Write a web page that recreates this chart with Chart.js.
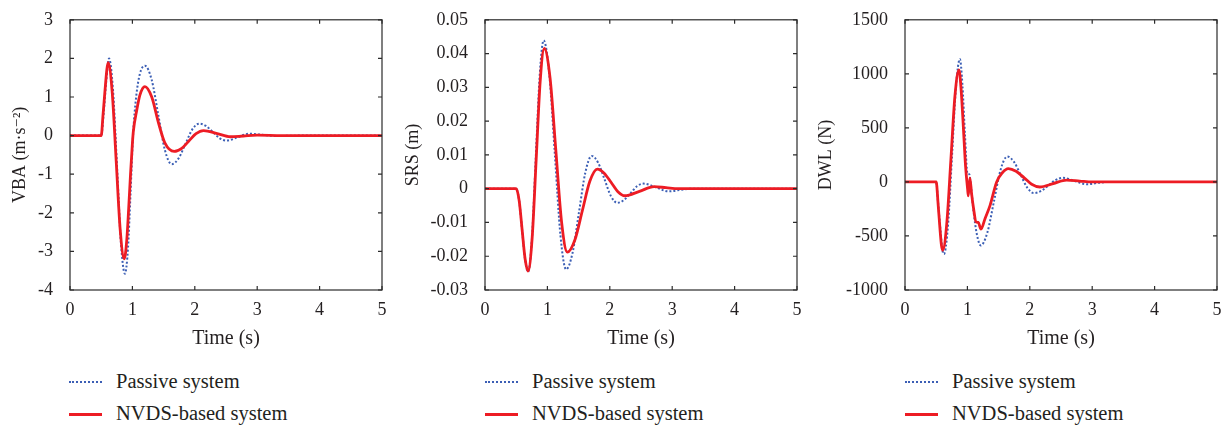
<!DOCTYPE html>
<html>
<head>
<meta charset="utf-8">
<script src="https://cdn.jsdelivr.net/npm/chart.js@4.4.1/dist/chart.umd.min.js"></script>
<style>
  body { margin: 0; background: #fff; width: 1231px; height: 430px; position: relative; overflow: hidden;
         font-family: "Liberation Serif", "DejaVu Serif", serif; color: #231f20; }
  canvas.panel { position: absolute; top: 0; }
  .legText { position: absolute; font-size: 20.5px; line-height: 22px; white-space: nowrap; }
  .legLine { position: absolute; width: 33px; height: 0; }
</style>
</head>
<body>
<canvas id="vbaChart" class="panel" width="400" height="360" style="left:0px"></canvas>
<canvas id="srsChart" class="panel" width="410" height="360" style="left:400px"></canvas>
<canvas id="dwlChart" class="panel" width="421" height="360" style="left:810px"></canvas>
<script>
"use strict";

/* ── Datos ── */
const timeTicks = [0, 1, 2, 3, 4, 5];
const seriesNames = ["Passive system", "NVDS-based system"];

// VBA (m·s⁻²)
const vbaPassiveT = [0, 0.5, 0.54, 0.58, 0.625, 0.689, 0.753, 0.816, 0.88, 0.93, 0.97, 1.01, 1.06, 1.12, 1.2, 1.31, 1.415, 1.52, 1.63, 1.74, 1.85, 1.96, 2.07, 2.18, 2.29, 2.4, 2.51, 2.69, 2.87, 3.08, 3.3, 3.7, 5];
const vbaPassiveY = [0, 0, 0.6, 1.4, 2.0, 1.19, -0.79, -2.77, -3.58, -2.9, -1.5, 0.0, 1.0, 1.6, 1.81, 1.44, 0.535, -0.37, -0.74, -0.59, -0.215, 0.16, 0.31, 0.25, 0.09, -0.07, -0.13, -0.04, 0.05, 0.02, -0.01, 0, 0];
const vbaNvdsT = [0, 0.5, 0.53, 0.56, 0.59, 0.61, 0.675, 0.74, 0.805, 0.87, 0.91, 0.94, 0.97, 1.0, 1.015, 1.07, 1.12, 1.2, 1.31, 1.42, 1.52, 1.67, 1.79, 1.905, 2.02, 2.14, 2.36, 2.57, 2.78, 3.0, 3.4, 5];
const vbaNvdsY = [0, 0, 0.55, 1.15, 1.7, 1.89, 1.15, -0.65, -2.45, -3.19, -2.7, -1.9, -1.0, -0.2, 0.11, 0.66, 1.05, 1.27, 1.0, 0.32, -0.19, -0.41, -0.33, -0.14, 0.05, 0.13, 0.05, -0.03, -0.01, 0.01, 0, 0];

// SRS (m)
const srsPassiveT = [0, 0.5, 0.548, 0.595, 0.643, 0.69, 0.753, 0.815, 0.878, 0.94, 1.03, 1.12, 1.21, 1.3, 1.403, 1.505, 1.608, 1.71, 1.813, 1.915, 2.018, 2.12, 2.225, 2.33, 2.435, 2.54, 2.74, 2.94, 3.12, 3.3, 5];
const srsPassiveY = [0, 0, -0.0036, -0.0123, -0.021, -0.0246, -0.0146, 0.0097, 0.0339, 0.0439, 0.034, 0.01, -0.014, -0.0239, -0.019, -0.0071, 0.0048, 0.0097, 0.0077, 0.0028, -0.0022, -0.0042, -0.0034, -0.0014, 0.0007, 0.0015, 0.0004, -0.0008, -0.0004, 0, 0];
const srsNvdsT = [0, 0.5, 0.548, 0.595, 0.643, 0.69, 0.755, 0.82, 0.885, 0.95, 1.043, 1.135, 1.228, 1.32, 1.44, 1.56, 1.68, 1.8, 1.91, 2.02, 2.13, 2.24, 2.475, 2.71, 2.9, 3.1, 5];
const srsNvdsY = [0, 0, -0.0036, -0.0122, -0.0208, -0.0244, -0.0148, 0.0086, 0.0319, 0.0415, 0.0327, 0.0114, -0.01, -0.0188, -0.0152, -0.0065, 0.0022, 0.0058, 0.0046, 0.0019, -0.0009, -0.0021, -0.0008, 0.0006, 0.0003, 0, 0];

// DWL (N)
const dwlPassiveT = [0, 0.5, 0.53, 0.57, 0.6, 0.625, 0.689, 0.753, 0.816, 0.88, 0.92, 0.96, 1.0, 1.03, 1.06, 1.1, 1.15, 1.213, 1.32, 1.427, 1.533, 1.64, 1.747, 1.854, 1.96, 2.067, 2.182, 2.297, 2.412, 2.527, 2.72, 2.91, 3.1, 3.3, 5];
const dwlPassiveY = [0, 0, -190, -460, -630, -667, -404, 235, 873, 1137, 900, 450, 80, 70, -60, -280, -480, -588, -468, -176, 115, 235, 185, 65, -54, -104, -83, -33, 17, 38, 8, -22, -8, 0, 0];
const dwlNvdsT = [0, 0.5, 0.53, 0.56, 0.585, 0.604, 0.669, 0.735, 0.8, 0.865, 0.9, 0.935, 0.97, 1.004, 1.015, 1.04, 1.068, 1.1, 1.138, 1.175, 1.218, 1.282, 1.362, 1.469, 1.56, 1.656, 1.78, 1.91, 2.03, 2.16, 2.375, 2.59, 2.8, 3.0, 5];
const dwlNvdsY = [0, 0, -200, -430, -590, -632, -388, 202, 793, 1037, 850, 510, 150, -70, -128, 38, -113, -250, -370, -375, -437, -340, -219, 0, 85, 123, 98, 38, -22, -47, -15, 17, 8, 0, 0];

/* ── Estilo ── */
const FONT = '"Liberation Serif", "DejaVu Serif", serif';
const TEXT = "#231f20";
const BLUE = "#3c5fb5";
const RED = "#ed1c24";

const pts = (ts, ys) => ts.map((t, i) => ({ x: t, y: ys[i] }));

// marco completo + marcas hacia adentro en los 4 lados
const framePlugin = {
  id: "frame",
  afterDraw(chart) {
    const { ctx, chartArea: a, scales } = chart;
    ctx.save();
    ctx.strokeStyle = "#2b2b2b";
    ctx.lineWidth = 1.2;
    ctx.strokeRect(a.left, a.top, a.right - a.left, a.bottom - a.top);
    ctx.beginPath();
    scales.x.ticks.forEach((t) => {
      const px = scales.x.getPixelForValue(t.value);
      ctx.moveTo(px, a.bottom); ctx.lineTo(px, a.bottom - 4);
      ctx.moveTo(px, a.top); ctx.lineTo(px, a.top + 4);
    });
    scales.y.ticks.forEach((t) => {
      const py = scales.y.getPixelForValue(t.value);
      ctx.moveTo(a.left, py); ctx.lineTo(a.left + 4, py);
      ctx.moveTo(a.right, py); ctx.lineTo(a.right - 4, py);
    });
    ctx.stroke();
    ctx.restore();
  },
};

function makePanel(id, cfg) {
  const ctx = document.getElementById(id).getContext("2d");
  return new Chart(ctx, {
    type: "line",
    data: {
      datasets: [
        {
          label: seriesNames[0],
          data: pts(cfg.passiveT, cfg.passiveY),
          borderColor: BLUE,
          borderWidth: 2,
          borderDash: [2, 2],
          order: 1,
        },
        {
          label: seriesNames[1],
          data: pts(cfg.nvdsT, cfg.nvdsY),
          borderColor: RED,
          borderWidth: 2.8,
          order: 0,
        },
      ],
    },
    options: {
      responsive: false,
      animation: false,
      devicePixelRatio: 1,
      parsing: false,
      elements: {
        point: { radius: 0 },
        line: { cubicInterpolationMode: "monotone", fill: false },
      },
      layout: { padding: { left: cfg.padLeft, right: cfg.padRight, top: 14, bottom: 9 } },
      plugins: { legend: { display: false }, tooltip: { enabled: false } },
      scales: {
        x: {
          type: "linear",
          min: timeTicks[0],
          max: timeTicks[timeTicks.length - 1],
          grid: { display: false },
          border: { display: false },
          afterBuildTicks: (s) => { s.ticks = timeTicks.map((v) => ({ value: v })); },
          ticks: { color: TEXT, padding: 1, maxRotation: 0, font: { family: FONT, size: 18 }, callback: (v) => String(v) },
          title: { display: true, text: "Time (s)", color: TEXT, padding: 0, font: { family: FONT, size: 20 } },
          afterFit: (s) => { s.height = 61; },
        },
        y: {
          type: "linear",
          min: cfg.yMin,
          max: cfg.yMax,
          grid: { display: false },
          border: { display: false },
          ticks: { stepSize: cfg.yStep, color: TEXT, padding: 9, font: { family: FONT, size: 18 }, callback: cfg.fmt },
          title: { display: true, text: cfg.yTitle, color: TEXT, padding: 0, font: { family: FONT, size: 18 } },
          afterFit: (s) => { s.width = cfg.yWidth; },
        },
      },
    },
    plugins: [framePlugin],
  });
}

const intFmt = (v) => String(Math.round(v));

makePanel("vbaChart", {
  passiveT: vbaPassiveT, passiveY: vbaPassiveY, nvdsT: vbaNvdsT, nvdsY: vbaNvdsY,
  yMin: -4, yMax: 3, yStep: 1, yTitle: "VBA (m·s⁻²)", fmt: intFmt,
  padLeft: 9, padRight: 18, yWidth: 61,
});
makePanel("srsChart", {
  passiveT: srsPassiveT, passiveY: srsPassiveY, nvdsT: srsNvdsT, nvdsY: srsNvdsY,
  yMin: -0.03, yMax: 0.05, yStep: 0.01, yTitle: "SRS (m)",
  fmt: (v) => (Math.abs(v) < 1e-9 ? "0" : v.toFixed(2)),
  padLeft: 2, padRight: 13, yWidth: 83,
});
makePanel("dwlChart", {
  passiveT: dwlPassiveT, passiveY: dwlPassiveY, nvdsT: dwlNvdsT, nvdsY: dwlNvdsY,
  yMin: -1000, yMax: 1500, yStep: 500, yTitle: "DWL (N)", fmt: intFmt,
  padLeft: 5, padRight: 14, yWidth: 90,
});

/* ── Leyendas (debajo de cada panel) ── */
[69, 485, 905].forEach((x0) => {
  const rows = [
    { y: 382, style: `border-top:2px dotted ${BLUE}` },
    { y: 414, style: `border-top:3px solid ${RED}` },
  ];
  rows.forEach((r, i) => {
    const line = document.createElement("div");
    line.className = "legLine";
    line.style.cssText = `left:${x0}px;top:${r.y - (i ? 1.5 : 1)}px;${r.style}`;
    document.body.appendChild(line);
    const txt = document.createElement("div");
    txt.className = "legText";
    txt.style.left = x0 + 47 + "px";
    txt.style.top = r.y - 12 + "px";
    txt.textContent = seriesNames[i];
    document.body.appendChild(txt);
  });
});
</script>
</body>
</html>
